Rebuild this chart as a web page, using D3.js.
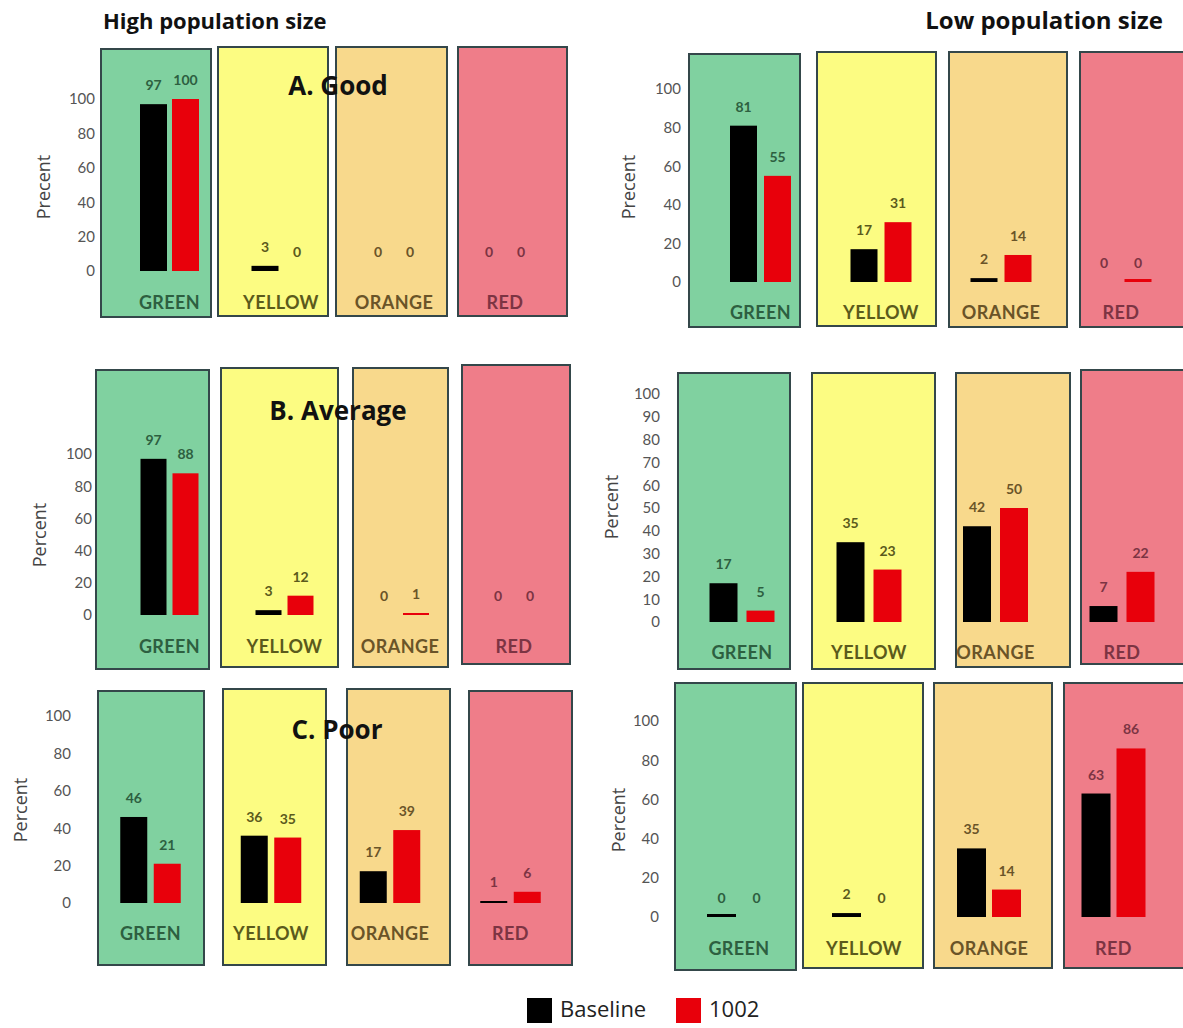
<!DOCTYPE html>
<html>
<head>
<meta charset="utf-8">
<script src="https://cdn.jsdelivr.net/npm/d3@7"></script>
<style>
  body { margin: 0; background: #fff; }
  svg { display: block; font-family: Lato, "Open Sans", sans-serif; }
</style>
</head>
<body>
<svg width="1183" height="1028"></svg>
<script>
// categories and series
var categories = ["GREEN", "YELLOW", "ORANGE", "RED"],
    seriesNames = ["Baseline", "1002"];

// values (percent)
var highGoodBaseline = [97, 3, 0, 0],  highGood1002 = [100, 0, 0, 0];
var lowGoodBaseline  = [81, 17, 2, 0], lowGood1002  = [55, 31, 14, 0];
var highAvgBaseline  = [97, 3, 0, 0],  highAvg1002  = [88, 12, 1, 0];
var lowAvgBaseline   = [17, 35, 42, 7], lowAvg1002  = [5, 23, 50, 22];
var highPoorBaseline = [46, 36, 17, 1], highPoor1002 = [21, 35, 39, 6];
var lowPoorBaseline  = [0, 2, 35, 63], lowPoor1002  = [0, 0, 14, 86];

// zero values that still show a little stub line in the original
var zeroStubs = [["lowGood", "1002", "RED"], ["lowPoor", "Baseline", "GREEN"]];

var ticks20 = [0, 20, 40, 60, 80, 100],
    ticks10 = [0, 10, 20, 30, 40, 50, 60, 70, 80, 90, 100];

var boxFill = {GREEN: "#80d1a0", YELLOW: "#fcfc82", ORANGE: "#f8d98c", RED: "#ef7d89"},
    inkColor = {GREEN: "#2d5f40", YELLOW: "#5b5a1c", ORANGE: "#6a5428", RED: "#7c3443"},
    barColor = {"Baseline": "#000000", "1002": "#e8000b"};

var svg = d3.select("svg");

// layout of the six pasted-together panels (positions only)
var panels = [
  {key: "highGood", base: highGoodBaseline, alt: highGood1002, ticks: ticks20,
   boxes: [[101, 49, 211, 317], [218, 47, 328, 316], [336, 47, 447, 316], [458, 47, 567, 316]],
   centers: [169.5, 281, 394, 505], bw: 27, step: 32,
   y0: 271, y100: 99, tickX: 95, catY: 309, yLabel: "Precent", yLabelPos: [45, 187]},
  {key: "lowGood", base: lowGoodBaseline, alt: lowGood1002, ticks: ticks20,
   boxes: [[689, 54, 800, 327], [817, 52, 936, 326], [949, 52, 1067, 327], [1080, 52, 1195, 327]],
   centers: [760.5, 881, 1001, 1121], bw: 27, step: 34,
   y0: 282, y100: 89, tickX: 681, catY: 319, yLabel: "Precent", yLabelPos: [630, 187]},
  {key: "highAvg", base: highAvgBaseline, alt: highAvg1002, ticks: ticks20,
   boxes: [[96, 370, 209, 669], [221, 368, 338, 667], [353, 368, 448, 667], [462, 365, 570, 664]],
   centers: [169.5, 284.5, 400, 514], bw: 26, step: 32,
   y0: 615, y100: 454, tickX: 92, catY: 653, yLabel: "Percent", yLabelPos: [41, 535]},
  {key: "lowAvg", base: lowAvgBaseline, alt: lowAvg1002, ticks: ticks10,
   boxes: [[678, 373, 790, 669], [812, 373, 935, 669], [956, 373, 1070, 667], [1081, 370, 1195, 664]],
   centers: [742, 869, 995.5, 1122], bw: 28, step: 37,
   y0: 622, y100: 394, tickX: 660, catY: 659, yLabel: "Percent", yLabelPos: [613, 507]},
  {key: "highPoor", base: highPoorBaseline, alt: highPoor1002, ticks: ticks20,
   boxes: [[98, 691, 204, 965], [223, 689, 326, 965], [347, 689, 450, 965], [469, 691, 572, 965]],
   centers: [150.5, 271, 390, 510.5], bw: 27, step: 33.5,
   y0: 903, y100: 716, tickX: 71, catY: 940, yLabel: "Percent", yLabelPos: [22, 810]},
  {key: "lowPoor", base: lowPoorBaseline, alt: lowPoor1002, ticks: ticks20,
   boxes: [[675, 683, 796, 970], [803, 683, 923, 968], [934, 683, 1052, 968], [1064, 683, 1195, 968]],
   centers: [739, 864, 989, 1113.5], bw: 29, step: 35,
   y0: 917, y100: 721, tickX: 659, catY: 955, yLabel: "Percent", yLabelPos: [620, 820]}
];

panels.forEach(drawPanel);

function drawPanel(p) {
  var g = svg.append("g").attr("class", "panel " + p.key);
  var y = d3.scaleLinear().domain([0, 100]).range([p.y0, p.y100]);

  // coloured category boxes
  g.selectAll("rect.box")
    .data(categories)
    .join("rect")
    .attr("class", "box")
    .attr("x", (d, i) => p.boxes[i][0])
    .attr("y", (d, i) => p.boxes[i][1])
    .attr("width", (d, i) => p.boxes[i][2] - p.boxes[i][0])
    .attr("height", (d, i) => p.boxes[i][3] - p.boxes[i][1])
    .attr("fill", d => boxFill[d])
    .attr("stroke", "#34474a")
    .attr("stroke-width", 2);

  // y axis: labels only
  var axis = g.append("g")
    .attr("transform", "translate(" + p.tickX + ",0)")
    .call(d3.axisLeft(y).tickValues(p.ticks).tickSize(0).tickPadding(0));
  axis.select(".domain").remove();
  axis.selectAll("text")
    .attr("fill", "#555")
    .attr("font-size", 15)
    .attr("font-family", "Lato, sans-serif");

  g.append("text")
    .attr("transform", "translate(" + p.yLabelPos[0] + "," + p.yLabelPos[1] + ") rotate(-90)")
    .attr("text-anchor", "middle")
    .attr("dominant-baseline", "middle")
    .attr("font-family", "'Open Sans', sans-serif")
    .attr("font-size", 18)
    .attr("fill", "#444")
    .text(p.yLabel);

  categories.forEach(function(cat, i) {
    var x = d3.scaleBand()
      .domain(seriesNames)
      .range([p.centers[i] - p.step / 2 - p.bw / 2, p.centers[i] + p.step / 2 + p.bw / 2])
      .paddingInner(1 - p.bw / p.step);

    var rows = seriesNames.map(function(s) {
      var v = (s === "Baseline" ? p.base : p.alt)[i];
      var stub = zeroStubs.some(z => z[0] === p.key && z[1] === s && z[2] === cat);
      return {series: s, value: v, stub: stub};
    });

    var cg = g.append("g");

    cg.selectAll("rect.bar")
      .data(rows.filter(d => d.value > 0 || d.stub))
      .join("rect")
      .attr("class", "bar")
      .attr("x", d => x(d.series))
      .attr("width", x.bandwidth())
      .attr("y", d => Math.min(y(d.value), p.y0 - (d.stub ? 3 : 2)))
      .attr("height", d => Math.max(p.y0 - y(d.value), d.stub ? 3 : 2))
      .attr("fill", d => barColor[d.series]);

    cg.selectAll("text.val")
      .data(rows)
      .join("text")
      .attr("class", "val")
      .attr("x", d => x(d.series) + x.bandwidth() / 2)
      .attr("y", d => y(d.value) - 14)
      .attr("text-anchor", "middle")
      .attr("font-size", 14)
      .attr("font-weight", 700)
      .attr("fill", inkColor[cat])
      .text(d => d.value);

    cg.append("text")
      .attr("x", p.centers[i])
      .attr("y", p.catY)
      .attr("text-anchor", "middle")
      .attr("font-size", 18)
      .attr("font-weight", 700)
      .attr("letter-spacing", 0.4)
      .attr("fill", inkColor[cat])
      .text(cat);
  });
}

// panel titles on top of the boxes
var titles = [["A. Good", 338, 88], ["B. Average", 338, 413], ["C. Poor", 337, 732]];
svg.selectAll("text.title")
  .data(titles)
  .join("text")
  .attr("class", "title")
  .attr("x", d => d[1])
  .attr("y", d => d[2])
  .attr("text-anchor", "middle")
  .attr("dominant-baseline", "middle")
  .attr("font-family", "'Open Sans', sans-serif")
  .attr("font-size", 26)
  .attr("font-weight", 700)
  .attr("fill", "#111")
  .text(d => d[0]);

svg.append("text")
  .attr("x", 103).attr("y", 29)
  .attr("font-family", "'Open Sans', sans-serif")
  .attr("font-size", 22).attr("font-weight", 700).attr("fill", "#111")
  .text("High population size");
svg.append("text")
  .attr("x", 1163).attr("y", 29)
  .attr("text-anchor", "end")
  .attr("font-family", "'Open Sans', sans-serif")
  .attr("font-size", 24).attr("font-weight", 700).attr("fill", "#111")
  .text("Low population size");

// legend
var legend = svg.append("g").attr("transform", "translate(527,998)");
var li = legend.selectAll("g")
  .data(seriesNames)
  .join("g")
  .attr("transform", (d, i) => "translate(" + i * 149 + ",0)");
li.append("rect")
  .attr("width", 25).attr("height", 25)
  .attr("fill", d => barColor[d]);
li.append("text")
  .attr("x", 33).attr("y", 13)
  .attr("dominant-baseline", "middle")
  .attr("font-family", "'Open Sans', sans-serif")
  .attr("font-size", 22)
  .attr("fill", "#222")
  .text(d => d);
</script>
</body>
</html>
